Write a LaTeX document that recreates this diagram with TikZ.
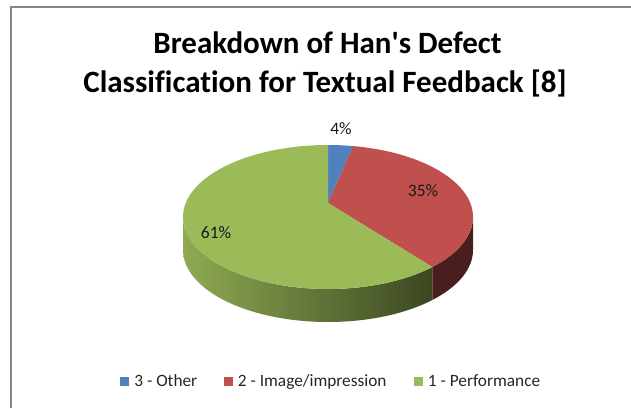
\documentclass[tikz,border=0pt]{standalone}
\usepackage{fontspec}
\setmainfont{Carlito}[Ligatures={TeX,NoCommon}]
\usetikzlibrary{positioning}
\definecolor{otherblue}{HTML}{4F81BD}
\definecolor{imagered}{HTML}{C0504D}
\definecolor{perfgreen}{HTML}{9BBB59}
\definecolor{redside}{HTML}{4B1E1E}
\definecolor{greenlight}{HTML}{8FAA52}
\definecolor{greendark}{HTML}{3B4722}
\definecolor{framegray}{HTML}{868686}

\begin{document}
\begin{tikzpicture}[x=1pt,y=1pt,
    pct/.style={font=\fontsize{17.5}{20}\selectfont, text=black!90, inner sep=0pt},
    key/.style={minimum size=9pt, inner sep=0pt},
    keytext/.style={font=\fontsize{17.3}{20}\selectfont, text=black!85, inner sep=0pt,
        text height=12pt, text depth=3pt},
    headline/.style={font=\bfseries\fontsize{31}{39}\selectfont, anchor=base, inner sep=0pt}
]
    \useasboundingbox (0,0) rectangle (631,408);
    \draw[framegray, line width=1.3pt] (11,0) -- (11,401) -- (631,401);

    \node[headline] (title1) at (327.5,355) {Breakdown of Han\textquotesingle s Defect};
    \node[headline] (title2) at (325,316) {Classification for Textual Feedback [8]};

    \coordinate (ctr) at (328,191);
    \coordinate (apex) at (328,205);

    % sides
    \shade[left color=greenlight, right color=greendark]
        ([shift={(180:145 and 72)}]ctr) arc[start angle=180, end angle=316, x radius=145, y radius=72]
        -- ++(0,-33) arc[start angle=316, end angle=180, x radius=145, y radius=72] -- cycle;
    \fill[redside]
        ([shift={(316:145 and 72)}]ctr) arc[start angle=316, end angle=360, x radius=145, y radius=72]
        -- ++(0,-33) arc[start angle=360, end angle=316, x radius=145, y radius=72] -- cycle;

    % top
    \fill[otherblue] (apex) -- ([shift={(90:145 and 72)}]ctr)
        arc[start angle=90, end angle=80, x radius=145, y radius=72] -- cycle;
    \fill[imagered] (apex) -- ([shift={(80:145 and 72)}]ctr)
        arc[start angle=80, end angle=-44, x radius=145, y radius=72] -- cycle;
    \fill[perfgreen] (apex) -- ([shift={(-44:145 and 72)}]ctr)
        arc[start angle=-44, end angle=-270, x radius=145, y radius=72] -- cycle;

    \node[pct] (p4) at (341,279) {4\%};
    \node[pct] (p35) at (423,217) {35\%};
    \node[pct] (p61) at (216,175) {61\%};

    % legend
    \node[key, fill=otherblue] (k3) at (124.5,26.5) {};
    \node[keytext, right=5pt of k3] (t3) {3 - Other};
    \node[key, fill=imagered] (k2) at (228,26.5) {};
    \node[keytext, right=5pt of k2] (t2) {2 - Image/impression};
    \node[key, fill=perfgreen] (k1) at (418,26.5) {};
    \node[keytext, right=5pt of k1] (t1) {1 - Performance};
\end{tikzpicture}
\end{document}
